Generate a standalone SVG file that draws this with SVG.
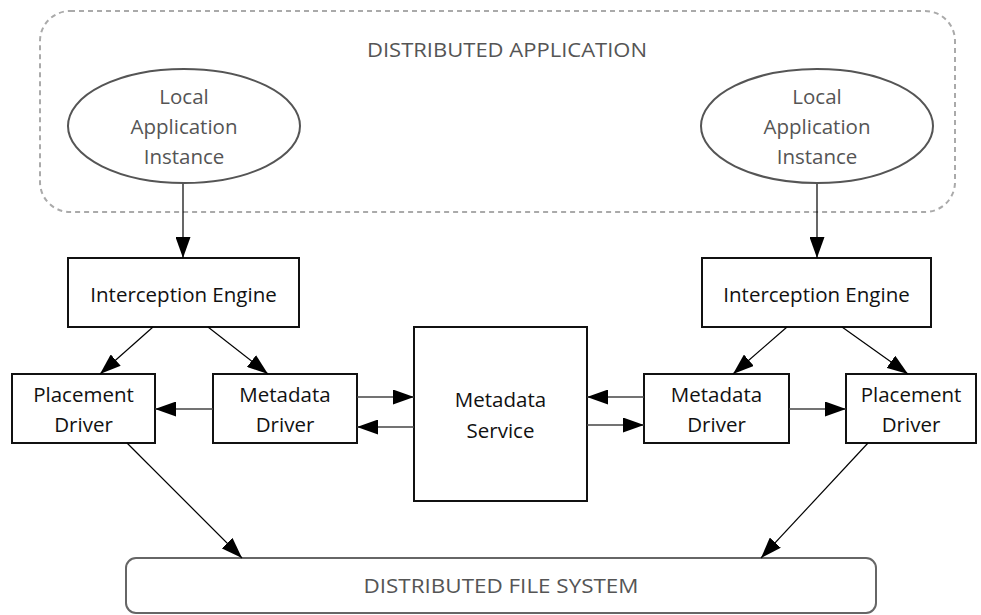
<svg xmlns="http://www.w3.org/2000/svg" width="981" height="615" viewBox="0 0 981 615">
  <style>
    .bg { fill: #ffffff; }
    .group { fill: none; stroke: #aaaaaa; stroke-width: 2; stroke-dasharray: 5 4; }
    .app { fill: #ffffff; stroke: #555555; stroke-width: 2; }
    .box { fill: #ffffff; stroke: #111111; stroke-width: 2; }
    .store { fill: #ffffff; stroke: #666666; stroke-width: 2; }
    .edge { fill: none; stroke: #000000; stroke-width: 1.2; marker-end: url(#arrow); }
    .edge-grey { fill: none; stroke: #444444; stroke-width: 1.5; marker-end: url(#arrow); }
    .label { font-family: "Open Sans", "Liberation Sans", sans-serif; font-size: 20.5px; fill: #111111; text-anchor: middle; }
    .soft { fill: #555555; }
    .caption { font-family: "Open Sans", "Liberation Sans", sans-serif; font-size: 19.5px; fill: #555555; text-anchor: middle; }
  </style>
  <defs>
    <marker id="arrow" markerUnits="userSpaceOnUse" markerWidth="21" markerHeight="15" refX="21" refY="7.5" orient="auto">
      <path d="M0,0 L21,7.5 L0,15 z" fill="#000000"/>
    </marker>
  </defs>

  <rect class="bg" x="0" y="0" width="981" height="615"/>

  <!-- application boundary -->
  <g id="distributed-application">
    <rect class="group" x="40" y="11" width="915" height="201" rx="30" ry="30"/>
    <text class="caption" x="507" y="57" textLength="280" lengthAdjust="spacingAndGlyphs">DISTRIBUTED APPLICATION</text>
  </g>

  <g id="local-app-left">
    <ellipse class="app" cx="184" cy="126" rx="116" ry="57"/>
    <text class="label soft" x="184" y="104">Local</text>
    <text class="label soft" x="184" y="134">Application</text>
    <text class="label soft" x="184" y="164">Instance</text>
  </g>

  <g id="local-app-right">
    <ellipse class="app" cx="817" cy="126" rx="116" ry="57"/>
    <text class="label soft" x="817" y="104">Local</text>
    <text class="label soft" x="817" y="134">Application</text>
    <text class="label soft" x="817" y="164">Instance</text>
  </g>

  <g id="interception-left">
    <rect class="box" x="68" y="258" width="231" height="69"/>
    <text class="label" x="183.5" y="302">Interception Engine</text>
  </g>

  <g id="interception-right">
    <rect class="box" x="702" y="258" width="229" height="69"/>
    <text class="label" x="816.5" y="302">Interception Engine</text>
  </g>

  <g id="placement-left">
    <rect class="box" x="12" y="374" width="143" height="69"/>
    <text class="label" x="83.5" y="402">Placement</text>
    <text class="label" x="83.5" y="432">Driver</text>
  </g>

  <g id="metadata-driver-left">
    <rect class="box" x="213" y="374" width="144" height="69"/>
    <text class="label" x="285" y="402">Metadata</text>
    <text class="label" x="285" y="432">Driver</text>
  </g>

  <g id="metadata-service">
    <rect class="box" x="414" y="327" width="173" height="174"/>
    <text class="label" x="500.5" y="407">Metadata</text>
    <text class="label" x="500.5" y="438">Service</text>
  </g>

  <g id="metadata-driver-right">
    <rect class="box" x="644" y="374" width="145" height="69"/>
    <text class="label" x="716.5" y="402">Metadata</text>
    <text class="label" x="716.5" y="432">Driver</text>
  </g>

  <g id="placement-right">
    <rect class="box" x="846" y="374" width="130" height="69"/>
    <text class="label" x="911" y="402">Placement</text>
    <text class="label" x="911" y="432">Driver</text>
  </g>

  <g id="file-system">
    <rect class="store" x="126" y="558" width="750" height="55" rx="10" ry="10"/>
    <text class="caption" x="501" y="593" textLength="275" lengthAdjust="spacingAndGlyphs">DISTRIBUTED FILE SYSTEM</text>
  </g>

  <!-- connectors -->
  <g id="connectors">
    <line class="edge" x1="183" y1="184" x2="183" y2="258"/>
    <line class="edge" x1="817" y1="184" x2="817" y2="258"/>

    <line class="edge" x1="153" y1="327" x2="100" y2="374"/>
    <line class="edge" x1="208" y1="327" x2="268" y2="374"/>
    <line class="edge" x1="787" y1="327" x2="733" y2="374"/>
    <line class="edge" x1="842" y1="327" x2="908" y2="374"/>

    <line class="edge-grey" x1="213" y1="409" x2="155" y2="409"/>
    <line class="edge-grey" x1="357" y1="397" x2="414" y2="397"/>
    <line class="edge-grey" x1="414" y1="427" x2="357" y2="427"/>
    <line class="edge-grey" x1="644" y1="397" x2="587" y2="397"/>
    <line class="edge-grey" x1="587" y1="425" x2="644" y2="425"/>
    <line class="edge-grey" x1="789" y1="409" x2="846" y2="409"/>

    <line class="edge" x1="127" y1="443" x2="242" y2="558"/>
    <line class="edge" x1="868" y1="443" x2="761" y2="558"/>
  </g>
</svg>
